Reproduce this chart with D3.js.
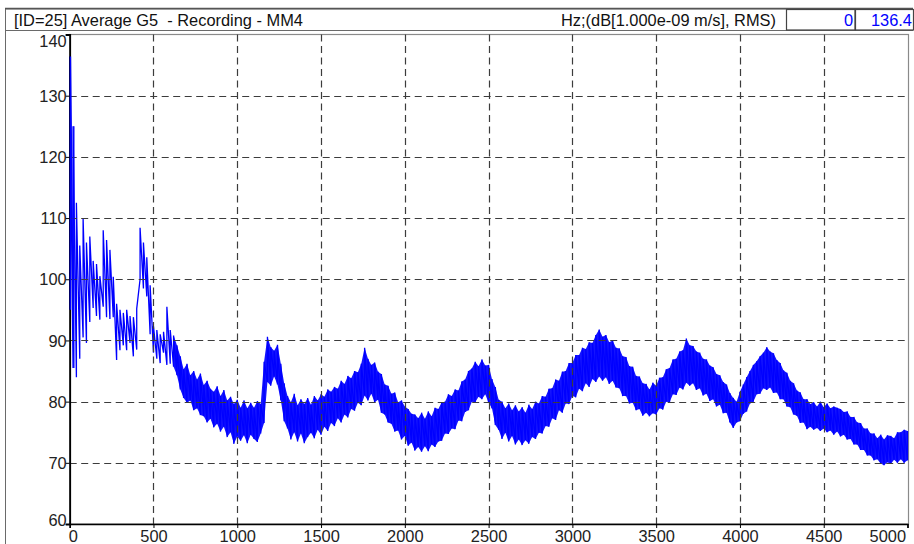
<!DOCTYPE html>
<html>
<head>
<meta charset="utf-8">
<script src="https://cdn.jsdelivr.net/npm/d3@7"></script>
<style>
  html, body { margin: 0; padding: 0; background: #fff; }
  svg { display: block; font-family: "Liberation Sans", Arial, sans-serif; }
</style>
</head>
<body>
<svg id="chart" width="914" height="544"></svg>
<script>
// Averaged spectrum, G5 recording at MM4: per-band minimum and maximum level (dB re 1e-9 m/s, RMS)
const bandWidthHz = 20;
const levelLow = [
  95, 85.5, 84, 87, 90.5, 89.6, 93, 95.3, 94, 93.4,
  95.5, 93.8, 93.5, 93.8, 86.8, 88.4, 89.2, 88.4, 89.6, 87.4,
  88.5, 100, 98.5, 97.2, 91, 88, 87, 86.3, 88, 86,
  86.2, 85.7, 84.3, 82.0, 80.6, 79.8, 80.2, 78.6, 78.9, 77.8,
  77.6, 76.6, 77.2, 75.8, 76.4, 75.1, 75.9, 74.2, 75.0, 73.1,
  74.3, 73.6, 74.5, 73.2, 74.6, 73.9, 73.4, 74.8, 76.5, 83.2,
  82.6, 84.1, 82.8, 80.2, 76.8, 75.6, 73.8, 75.0, 73.5, 74.8,
  73.2, 74.2, 74.9, 74.0, 75.4, 74.6, 75.9, 75.2, 76.5, 76.0,
  77.3, 76.6, 77.9, 77.4, 78.8, 78.5, 79.8, 79.4, 81.0, 80.2,
  81.3, 79.9, 80.3, 78.2, 77.9, 76.6, 76.4, 75.1, 75.3, 73.8,
  74.4, 72.8, 73.3, 72.0, 72.6, 71.8, 72.7, 71.9, 73.0, 72.6,
  73.5, 73.6, 74.8, 74.7, 75.6, 75.5, 76.9, 76.8, 78.3, 78.6,
  80.0, 79.9, 80.8, 80.4, 81.2, 79.8, 78.9, 76.2, 75.4, 73.9,
  74.9, 73.5, 74.4, 73.0, 73.8, 72.9, 73.7, 73.1, 74.2, 73.9,
  74.9, 74.8, 76.0, 75.9, 77.3, 77.0, 78.6, 78.2, 79.7, 79.6,
  80.9, 80.7, 82.1, 81.7, 83.0, 82.4, 83.7, 83.2, 84.1, 83.4,
  84.0, 82.9, 83.4, 82.3, 82.2, 80.9, 80.9, 79.7, 79.8, 78.6,
  78.8, 77.7, 78.2, 77.6, 78.1, 77.9, 78.9, 78.7, 80.0, 79.9,
  81.2, 81.1, 82.3, 82.0, 83.1, 82.6, 83.0, 81.9, 82.2, 81.0,
  81.3, 80.1, 80.4, 79.2, 79.5, 78.1, 78.2, 76.6, 75.7, 76.6,
  76.8, 78.0, 78.4, 79.7, 80.0, 81.2, 81.3, 82.2, 81.9, 82.3,
  81.4, 81.5, 80.4, 80.4, 79.2, 79.1, 77.9, 77.7, 76.5, 76.6,
  75.5, 75.9, 75.4, 75.7, 75.2, 75.6, 75.0, 75.3, 74.6, 75.1,
  74.3, 74.6, 73.8, 73.9, 73.0, 73.0, 72.1, 72.1, 71.2, 71.2,
  70.4, 70.6, 69.9, 69.6, 70.1, 69.8, 70.5, 70.0, 70.6, 70.0,
  70.4
];
const levelHigh = [
  136.4, 125, 112.5, 105.5, 110, 106, 107, 103, 102.5, 100.5,
  108, 106.4, 104.8, 100.4, 96, 95, 94.5, 95, 94, 93.8,
  95.2, 108.4, 106, 103.6, 99, 92.3, 91.7, 91, 91.4, 95.5,
  91.7, 90.8, 89.2, 87.4, 85.3, 86.2, 84.3, 85.0, 83.6, 84.6,
  82.7, 83.4, 82.1, 81.6, 82.5, 80.9, 81.9, 80.2, 80.8, 79.6,
  80.3, 79.0, 80.2, 78.9, 79.8, 79.0, 80.1, 79.6, 86.5, 90.6,
  88.9, 88.3, 89.3, 86.2, 83.0, 80.9, 79.9, 81.3, 79.4, 80.4,
  79.6, 80.6, 79.5, 80.9, 80.2, 81.2, 80.8, 82.0, 81.6, 82.4,
  82.1, 83.4, 82.9, 84.2, 83.8, 85.0, 84.8, 86.2, 88.8, 87.0,
  86.0, 86.4, 84.9, 84.5, 82.8, 82.6, 81.3, 81.5, 79.9, 80.2,
  79.2, 78.8, 78.0, 77.9, 77.3, 78.2, 77.2, 78.4, 77.6, 79.0,
  78.8, 79.9, 80.0, 81.2, 80.9, 82.0, 81.8, 83.3, 83.6, 85.0,
  85.4, 86.5, 85.8, 86.9, 85.9, 86.0, 83.7, 82.4, 80.3, 80.0,
  78.9, 79.7, 78.6, 79.4, 78.4, 79.1, 78.2, 79.5, 78.8, 80.0,
  79.7, 80.9, 80.8, 82.1, 82.2, 83.6, 83.4, 84.9, 85.0, 86.3,
  86.3, 87.6, 87.6, 88.8, 88.6, 89.7, 89.6, 90.9, 91.8, 90.6,
  90.9, 89.7, 90.0, 88.8, 88.7, 87.4, 87.3, 85.8, 85.7, 84.2,
  84.1, 83.0, 82.9, 82.0, 83.1, 82.6, 83.9, 84.0, 85.3, 85.5,
  86.9, 87.0, 88.2, 88.4, 90.3, 89.2, 89.1, 88.2, 88.0, 87.0,
  86.9, 85.9, 85.6, 84.5, 84.3, 83.2, 82.8, 81.4, 80.6, 80.0,
  81.6, 82.8, 84.0, 85.0, 86.0, 86.6, 87.4, 88.0, 88.9, 88.2,
  87.9, 86.8, 86.3, 85.1, 84.7, 83.4, 83.0, 81.8, 81.5, 80.4,
  80.4, 79.6, 79.9, 79.2, 80.0, 79.1, 79.7, 78.9, 79.2, 79.0,
  78.8, 78.3, 78.4, 77.5, 77.5, 76.6, 76.5, 75.6, 75.6, 74.8,
  74.8, 74.0, 74.6, 73.8, 74.5, 74.4, 74.0, 75.0, 75.0, 75.4,
  75.2
];
const xTicks = [0, 500, 1000, 1500, 2000, 2500, 3000, 3500, 4000, 4500, 5000];
const yTicks = [60, 70, 80, 90, 100, 110, 120, 130, 140];
const titleText = "[ID=25] Average G5  - Recording - MM4";
const unitText = "Hz;(dB[1.000e-09 m/s], RMS)";
const cursorX = "0";
const cursorY = "136.4";
// above this frequency the band is dense enough to read as a filled strip
const denseFromHz = 620;

const svg = d3.select("#chart");
const W = 914, H = 544;
const plot = { left: 69.7, right: 907.5, top: 34.5, bottom: 524 };

const x = d3.scaleLinear().domain([0, 5000]).range([plot.left, plot.right]);
const y = d3.scaleLinear().domain([60, 140]).range([plot.bottom, plot.top]);

svg.append("rect").attr("width", W).attr("height", H).attr("fill", "#fff");

// Outer window frame and header strip
svg.append("line").attr("x1", 5.5).attr("x2", 5.5).attr("y1", 9).attr("y2", H)
  .attr("stroke", "#6a6a6a").attr("stroke-width", 1);
svg.append("rect").attr("x", 5.5).attr("y", 9).attr("width", 907).attr("height", 21.5)
  .attr("fill", "none").attr("stroke", "#6a6a6a").attr("stroke-width", 1);
svg.append("line").attr("x1", 5).attr("x2", 913).attr("y1", 8.5).attr("y2", 8.5)
  .attr("stroke", "#555").attr("stroke-width", 1.5);

svg.append("text").attr("x", 14).attr("y", 25.5).attr("font-size", 16.4).attr("fill", "#111")
  .style("white-space", "pre").text(titleText);
svg.append("text").attr("x", 776).attr("y", 25.5).attr("font-size", 16.4).attr("fill", "#111")
  .attr("text-anchor", "end").text(unitText);

// Cursor readout boxes
svg.append("rect").attr("x", 786.5).attr("y", 9.5).attr("width", 68.5).attr("height", 20.5)
  .attr("fill", "#fff").attr("stroke", "#444").attr("stroke-width", 1.2);
svg.append("rect").attr("x", 855.5).attr("y", 9.5).attr("width", 58).attr("height", 20.5)
  .attr("fill", "#fff").attr("stroke", "#444").attr("stroke-width", 1.2);
svg.append("text").attr("x", 853).attr("y", 25.5).attr("font-size", 16.4).attr("fill", "#0000ff")
  .attr("text-anchor", "end").text(cursorX);
svg.append("text").attr("x", 912).attr("y", 25.5).attr("font-size", 16.4).attr("fill", "#0000ff")
  .attr("text-anchor", "end").text(cursorY);

// Plot frame
svg.append("rect").attr("x", plot.left).attr("y", plot.top)
  .attr("width", plot.right - plot.left + 1).attr("height", plot.bottom - plot.top)
  .attr("fill", "none").attr("stroke", "#8a8a8a").attr("stroke-width", 1.2);

// Spectrum trace: each band drawn from its minimum to its maximum level
const bands = levelLow.map((lo, i) => ({ f: i * bandWidthHz, lo, hi: levelHigh[i] }));
const blue = "#0000ff";

svg.append("path")
  .datum(bands.filter(b => b.f >= denseFromHz))
  .attr("d", d3.area().x(b => x(b.f)).y0(b => y(b.lo)).y1(b => y(b.hi)))
  .attr("fill", blue).attr("fill-opacity", 0.92).attr("stroke", "none");

const pts = bands.flatMap(b => [[b.f, b.lo], [b.f, b.hi]]);
svg.append("path").datum(pts)
  .attr("d", d3.line().x(d => x(d[0])).y(d => y(d[1])))
  .attr("fill", "none").attr("stroke", blue).attr("stroke-width", 1.3)
  .attr("stroke-linejoin", "miter");

// Dashed grid, drawn over the trace
const grid = svg.append("g").attr("stroke", "#3c3c3c").attr("stroke-width", 1.2)
  .attr("stroke-dasharray", "7,4.5");
grid.selectAll("line.h").data(yTicks.filter(v => v > 60 && v < 140)).join("line")
  .attr("class", "h")
  .attr("x1", plot.left).attr("x2", plot.right)
  .attr("y1", d => Math.round(y(d)) + 0.5).attr("y2", d => Math.round(y(d)) + 0.5);
grid.selectAll("line.v").data(xTicks.filter(v => v > 0 && v < 5000)).join("line")
  .attr("class", "v")
  .attr("y1", plot.top).attr("y2", plot.bottom)
  .attr("x1", d => Math.round(x(d)) + 0.5).attr("x2", d => Math.round(x(d)) + 0.5);

// Axes
const yAxis = d3.axisLeft(y).tickValues(yTicks).tickSize(4).tickFormat(d3.format("d"));
const gy = svg.append("g").attr("transform", `translate(${plot.left},0)`).call(yAxis);
gy.select(".domain").attr("stroke", "#000").attr("stroke-width", 1.8);
gy.selectAll(".tick line").attr("stroke", "#000");
gy.selectAll(".tick text").attr("font-size", 16.4).attr("fill", "#222")
  .attr("font-family", "Liberation Sans, Arial, sans-serif")
  .attr("x", -3)
  .attr("dy", d => d === 140 ? "0.72em" : d === 60 ? "0.1em" : "0.34em");

const xAxis = d3.axisBottom(x).tickValues(xTicks).tickSize(4).tickFormat(d3.format("d"));
const gx = svg.append("g").attr("transform", `translate(0,${plot.bottom})`).call(xAxis);
gx.select(".domain").attr("stroke", "#000").attr("stroke-width", 1.6);
gx.selectAll(".tick line").attr("stroke", "#000");
gx.selectAll(".tick text").attr("font-size", 16.4).attr("fill", "#222")
  .attr("font-family", "Liberation Sans, Arial, sans-serif")
  .attr("y", 6.5)
  .attr("text-anchor", d => d === 0 ? "start" : d === 5000 ? "end" : "middle")
  .attr("dx", d => d === 0 ? -1.5 : d === 5000 ? -2 : 0);

// The opening peak sits on the axis line; redraw the first bands above it
svg.append("path").datum(pts.slice(0, 4))
  .attr("d", d3.line().x(d => x(d[0]) + 0.8).y(d => y(d[1])))
  .attr("fill", "none").attr("stroke", blue).attr("stroke-width", 1.3);
</script>
</body>
</html>
